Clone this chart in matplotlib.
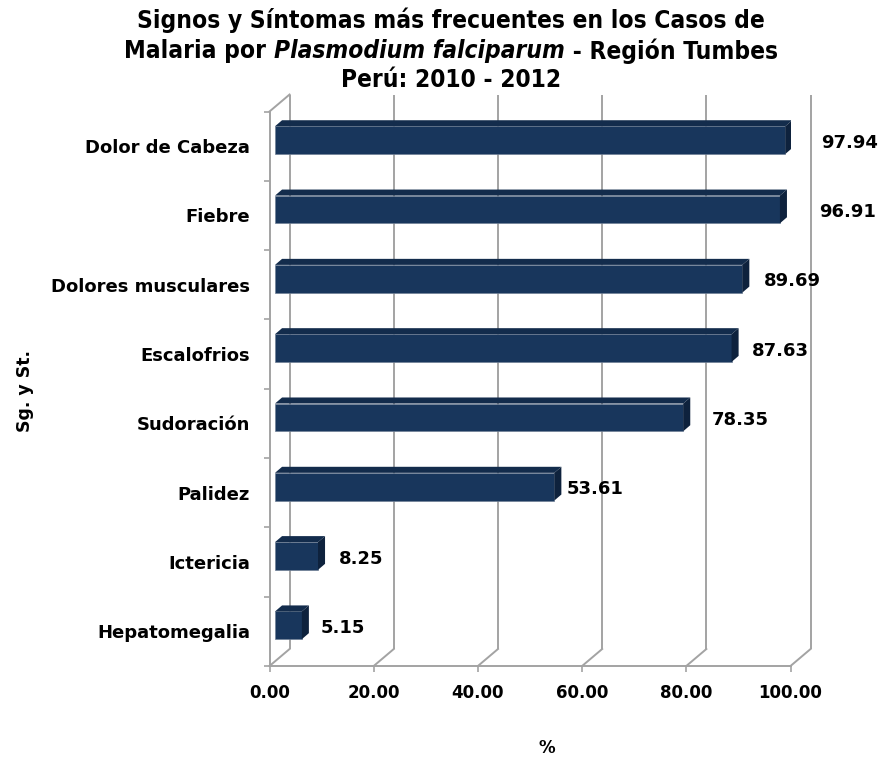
import matplotlib
matplotlib.use("Agg")
import matplotlib.pyplot as plt
from matplotlib.patches import Polygon

# ---------------- data ----------------
categories = ["Dolor de Cabeza", "Fiebre", "Dolores musculares", "Escalofrios",
              "Sudoración", "Palidez", "Ictericia", "Hepatomegalia"]
values = [97.94, 96.91, 89.69, 87.63, 78.35, 53.61, 8.25, 5.15]
x_ticks = [0, 20, 40, 60, 80, 100]
x_tick_labels = ["0.00", "20.00", "40.00", "60.00", "80.00", "100.00"]

# ---------------- layout / style ----------------
label_dx = [7.9, 8.6, 5.2, 5.0, 6.5, 3.4, 5.1, 4.7]   # data-label offsets (x units)
label_dy = -0.05
WX, WY = 3.85, -0.245          # wall depth offset (data units)
BFX, BFY, BH = 1.06, -0.087, 0.40   # bar front-face offset and height
BDX, BDY = 1.35, -0.087        # bar depth
C_FRONT, C_TOP, C_SIDE = "#18365C", "#132C4C", "#0E223D"
GRID = "#A3A3A3"

fig = plt.figure(figsize=(8.88, 7.58), dpi=100)
ax = fig.add_axes([269.5 / 888, 92 / 758, 521 / 888, 554.5 / 758])
n = len(categories)
ax.set_xlim(0, 100)
ax.set_ylim(n - 0.5, -0.5)
for s in ax.spines.values():
    s.set_visible(False)

ytop, ybot = -0.5, n - 0.5
# back wall gridlines + floor diagonals
for x in x_ticks:
    ax.plot([x + WX, x + WX], [ytop + WY, ybot + WY], color=GRID, lw=1.4,
            zorder=1, clip_on=False, solid_capstyle="butt")
    ax.plot([x, x + WX], [ybot, ybot + WY], color=GRID, lw=1.4, zorder=1, clip_on=False)
# left side wall top edge and front axes
ax.plot([0, WX], [ytop, ytop + WY], color=GRID, lw=1.4, zorder=1, clip_on=False)
ax.plot([0, 0], [ytop, ybot], color=GRID, lw=1.4, zorder=2, clip_on=False)
ax.plot([0, 100], [ybot, ybot], color=GRID, lw=1.4, zorder=2, clip_on=False)

# bars
ypos = [i + BFY for i in range(n)]
ax.barh(ypos, values, left=BFX, height=BH, color=C_FRONT, zorder=3,
        edgecolor="#6F7F96", linewidth=0.5)
for i, v in enumerate(values):
    yt = ypos[i] - BH / 2
    yb = ypos[i] + BH / 2
    L = BFX
    R = BFX + v
    ax.add_patch(Polygon([(L, yt), (R, yt), (R + BDX, yt + BDY), (L + BDX, yt + BDY)],
                         closed=True, facecolor=C_TOP, edgecolor="none", zorder=3))
    ax.add_patch(Polygon([(R, yt), (R + BDX, yt + BDY), (R + BDX, yb + BDY), (R, yb)],
                         closed=True, facecolor=C_SIDE, edgecolor="none", zorder=3))
    ax.text(v + label_dx[i], i + label_dy, f"{v:.2f}", ha="left", va="center",
            fontsize=13, fontweight="bold", color="black", zorder=4, clip_on=False)

# ticks
ax.set_yticks(range(n))
ax.set_yticklabels(categories, fontsize=13, fontweight="bold")
ax.set_yticks([k - 0.5 for k in range(n + 1)], minor=True)
ax.tick_params(axis="y", which="major", length=0, pad=14)
ax.tick_params(axis="y", which="minor", length=4, color=GRID, width=1.2)
ax.set_xticks(x_ticks)
ax.set_xticklabels(x_tick_labels, fontsize=12, fontweight="bold")
ax.tick_params(axis="x", which="major", length=4, color=GRID, width=1.2, pad=9)

# axis titles
fig.text(547 / 888, 1 - 748 / 758, "%", ha="center", va="center",
         fontsize=12, fontweight="bold")
fig.text(25 / 888, 1 - 391 / 758, "Sg. y St.", ha="center", va="center",
         rotation=90, fontsize=12.5, fontweight="bold")

# title
TX = 451
tkw = dict(fontsize=17.6, fontweight="bold", fontstretch="condensed", color="black")
fig.text(TX / 888, 1 - 20 / 758, "Signos y Síntomas más frecuentes en los Casos de",
         ha="center", va="center", **tkw)
fig.text(TX / 888, 1 - 80 / 758, "Perú: 2010 - 2012", ha="center", va="center", **tkw)
# line 2 with italic part
parts = [("Malaria por ", "normal"), ("Plasmodium falciparum", "italic"),
         (" - Región Tumbes", "normal")]
fig.canvas.draw()
r = fig.canvas.get_renderer()
texts = []
for s, st in parts:
    t = fig.text(0, 1 - 51 / 758, s, ha="left", va="center", style=st, **tkw)
    texts.append(t)
widths = [t.get_window_extent(r).width for t in texts]
total = sum(widths)
x0 = TX - total / 2
for t, w in zip(texts, widths):
    t.set_x(x0 / 888)
    x0 += w

fig.savefig("out.png", dpi=100)
